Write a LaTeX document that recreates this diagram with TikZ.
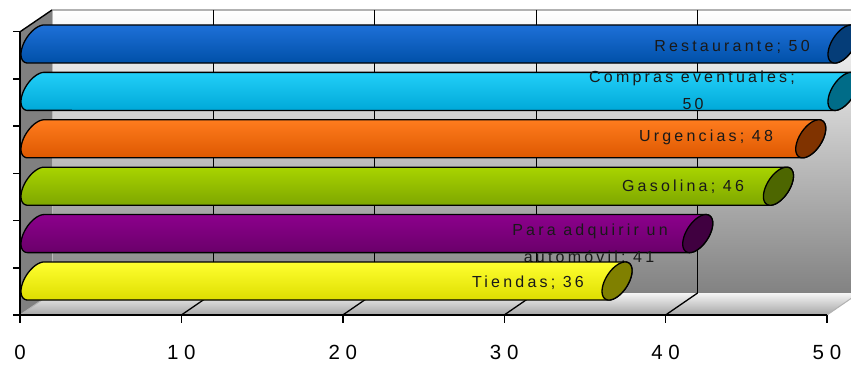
\documentclass[tikz,border=0pt]{standalone}
\usepackage{fontspec}
\setmainfont{Liberation Sans}
\newfontfamily\lblfont[LetterSpace=20]{Liberation Sans}
\newfontfamily\axfont[LetterSpace=28]{Liberation Sans}
\definecolor{wallbot}{HTML}{828282}
\definecolor{leftwall}{HTML}{808080}
\definecolor{bluetop}{HTML}{1E70D8}
\definecolor{bluebot}{HTML}{0050A8}
\definecolor{bluecap}{HTML}{053D78}
\definecolor{cyantop}{HTML}{22CFF8}
\definecolor{cyanbot}{HTML}{00A8D8}
\definecolor{cyancap}{HTML}{006C88}
\definecolor{orangetop}{HTML}{FF7C1E}
\definecolor{orangebot}{HTML}{DD5800}
\definecolor{orangecap}{HTML}{803300}
\definecolor{greentop}{HTML}{A8D400}
\definecolor{greenbot}{HTML}{7EA600}
\definecolor{greencap}{HTML}{4D6600}
\definecolor{purpletop}{HTML}{8C008C}
\definecolor{purplebot}{HTML}{6A006A}
\definecolor{purplecap}{HTML}{400040}
\definecolor{yellowtop}{HTML}{FFFF30}
\definecolor{yellowbot}{HTML}{DEDE00}
\definecolor{yellowcap}{HTML}{808000}
\newcommand\cylbar[5]{%
  \pgfmathsetmacro\cxa{36}%
  \pgfmathsetmacro\cxb{36+#2*16.14}%
  \path[barline, top color=#3, bottom color=#4]
    ({\cxa+8.1},{#1-19}) -- ({\cxb+8.1},{#1-19})
    -- plot[domain=57.2:-122.8,samples=50] ({\cxb+15*cos(\x)},{#1-10.3*cos(\x)-16*sin(\x)})
    -- ({\cxa-8.1},{#1+19})
    -- plot[domain=237.2:57.2,samples=50] ({\cxa+15*cos(\x)},{#1-10.3*cos(\x)-16*sin(\x)})
    -- cycle;
  \path[barline, fill=#5]
    plot[domain=0:360,samples=72] ({\cxb+15*cos(\x)},{#1-10.3*cos(\x)-16*sin(\x)}) -- cycle;
}
\begin{document}
\begin{tikzpicture}[x=1pt,y=-1pt,
  barline/.style={draw=black, line width=1.3pt, line join=round},
  grid/.style={draw=black, line width=1.3pt},
  axisline/.style={draw=black, line width=1.4pt},
  barlabel/.style={anchor=base, inner sep=0pt, text=black!90, font=\lblfont\fontsize{16}{18}\selectfont},
  axlabel/.style={anchor=base, inner sep=0pt, text=black, font=\axfont\fontsize{20.5}{23}\selectfont}]
\useasboundingbox (0,0) rectangle (851,366);
\clip (0,0) rectangle (851,366);
% back wall
\path[top color=white, bottom color=wallbot] (52,10) rectangle (860,293);
\draw[gray!60, line width=1.3pt] (52,10) -- (860,10);
% floor
\path[top color=white!96!black, bottom color=gray!70] (20,315) -- (52,293) -- (859,293) -- (827,315) -- cycle;
% left wall
\path[fill=leftwall] (20,31.8) -- (52,10) -- (52,293) -- (20,315) -- cycle;
\draw[gray!55, line width=1pt] (52,10) -- (52,293);
\draw[axisline] (20,31.8) -- (52,10);
% gridlines
\foreach \k in {1,...,4} {
  \draw[grid] ({52+161.4*\k},10) -- ({52+161.4*\k},293);
  \draw[grid] ({20+161.4*\k},315) -- ({52+161.4*\k},293);
}
\draw[gray!60, line width=1pt] (20,315) -- (52,293);
\draw[gray!60, line width=1pt] (827,315) -- (859,293);
% bars (top to bottom) with labels
\cylbar{44}{50}{bluetop}{bluebot}{bluecap}
\node[barlabel] (lrest) at (732,52) {Restaurante; 50};
\cylbar{91.4}{50}{cyantop}{cyanbot}{cyancap}
\node[barlabel] (lcomp1) at (692,83) {Compras eventuales;};
\node[barlabel] (lcomp2) at (693,110) {50};
\cylbar{138.8}{48}{orangetop}{orangebot}{orangecap}
\node[barlabel] (lurg) at (706,142) {Urgencias; 48};
\cylbar{186.2}{46}{greentop}{greenbot}{greencap}
\node[barlabel] (lgas) at (683,192) {Gasolina; 46};
\cylbar{233.6}{41}{purpletop}{purplebot}{purplecap}
\node[barlabel] (lpara1) at (590,235) {Para adquirir un};
\node[barlabel] (lpara2) at (589,262) {automóvil; 41};
\cylbar{281}{36}{yellowtop}{yellowbot}{yellowcap}
\node[barlabel] (ltien) at (528,287) {Tiendas; 36};
% axes
\draw[axisline] (20,31.8) -- (20,315) -- (827,315);
\foreach \k in {0,...,6} {
  \draw[axisline] (13,{315-47.2*\k}) -- (20,{315-47.2*\k});
}
\foreach \k/\v in {0/0,1/10,2/20,3/30,4/40,5/50} {
  \draw[axisline] ({20+161.4*\k},315) -- ({20+161.4*\k},323);
  \node[axlabel] (ax\k) at ({20+161.4*\k},359) {\v};
}
\end{tikzpicture}
\end{document}
